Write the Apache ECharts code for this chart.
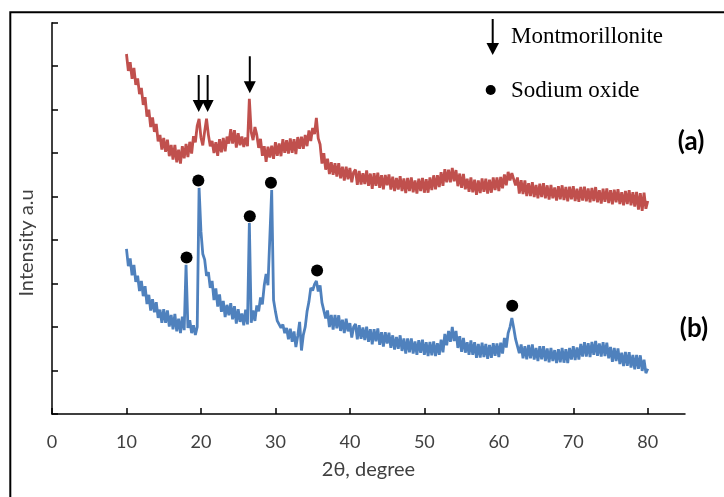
<!DOCTYPE html>
<html><head><meta charset="utf-8">
<script src="https://cdn.jsdelivr.net/npm/echarts@6/dist/echarts.min.js"></script>
<style>html,body{margin:0;padding:0;background:#fff}#c{width:724px;height:497px}</style>
</head><body><div id="c"></div>
<script>
// 2-theta sampling: start and step of the scan (degrees)
const angleStart = 10;
const angleStep = 0.25;

// (a) intensity, arbitrary units, one value per step from 10 to 80 degrees
const intensityA = [
  828, 789, 809, 771, 796, 757, 772, 736,
  750, 711, 729, 684, 700, 660, 682, 649,
  667, 627, 642, 608, 635, 603, 631, 593,
  619, 585, 619, 579, 608, 576, 616, 588,
  621, 591, 626, 599, 639, 625, 663, 679,
  636, 618, 650, 679, 642, 616, 628, 600,
  625, 594, 632, 602, 635, 604, 638, 622,
  655, 622, 653, 613, 646, 618, 638, 614,
  636, 616, 725, 648, 630, 660, 642, 612,
  633, 594, 616, 580, 615, 590, 617, 587,
  625, 594, 622, 593, 632, 601, 630, 599,
  634, 601, 632, 598, 637, 610, 638, 610,
  642, 616, 652, 628, 658, 644, 681, 634,
  620, 576, 600, 562, 587, 552, 579, 550,
  577, 546, 577, 542, 569, 537, 569, 540,
  566, 533, 556, 562, 527, 559, 528, 554,
  529, 560, 525, 553, 518, 554, 525, 555,
  520, 549, 517, 550, 526, 551, 516, 546,
  513, 543, 516, 547, 513, 542, 508, 543,
  513, 544, 510, 537, 507, 541, 513, 543,
  509, 540, 509, 544, 515, 549, 517, 549,
  522, 556, 525, 563, 533, 562, 533, 566,
  535, 561, 524, 553, 520, 552, 517, 541,
  511, 544, 510, 539, 504, 537, 508, 542,
  511, 541, 507, 539, 509, 544, 515, 544,
  513, 545, 519, 551, 526, 557, 537, 554,
  558, 526, 544, 507, 538, 506, 537, 501,
  531, 501, 533, 499, 527, 496, 530, 499,
  531, 496, 526, 493, 527, 496, 521, 491,
  524, 494, 526, 492, 522, 489, 523, 494,
  524, 490, 518, 488, 522, 491, 523, 489,
  519, 487, 520, 490, 522, 487, 515, 484,
  518, 488, 519, 485, 515, 482, 516, 487,
  517, 483, 510, 480, 513, 483, 515, 480,
  510, 477, 511, 470, 508, 467, 509, 472,
  490
];

// (b) intensity, arbitrary units, same sampling
const intensityB = [
  380, 340, 358, 319, 343, 304, 318, 283,
  306, 271, 294, 253, 274, 238, 264, 234,
  257, 221, 240, 210, 241, 210, 238, 201,
  228, 195, 230, 190, 219, 186, 224, 193,
  343, 198, 216, 186, 204, 182, 200, 520,
  420, 368, 355, 318, 326, 290, 306, 262,
  289, 247, 275, 235, 260, 223, 251, 227,
  255, 218, 248, 208, 241, 212, 231, 204,
  240, 206, 439, 210, 238, 214, 250, 236,
  268, 252, 296, 322, 296, 300, 515, 262,
  236, 214, 218, 198, 206, 186, 198, 172,
  196, 166, 190, 154, 180, 212, 146, 182,
  200, 236, 258, 290, 284, 298, 306, 282,
  296, 256, 258, 220, 238, 200, 228, 194,
  228, 197, 227, 191, 217, 186, 219, 190,
  209, 176, 200, 207, 172, 204, 173, 199,
  170, 201, 166, 195, 160, 195, 167, 197,
  159, 188, 155, 188, 162, 187, 152, 181,
  148, 177, 150, 181, 145, 174, 139, 174,
  142, 174, 139, 167, 136, 170, 141, 171,
  136, 165, 133, 166, 135, 167, 133, 163,
  136, 171, 142, 184, 158, 191, 166, 200,
  168, 191, 152, 179, 143, 175, 141, 165,
  136, 169, 136, 165, 129, 161, 130, 164,
  131, 161, 127, 159, 129, 163, 134, 162,
  131, 164, 139, 175, 153, 186, 200, 221,
  198, 172, 170, 140, 160, 128, 156, 126,
  159, 128, 160, 125, 152, 122, 156, 126,
  156, 122, 151, 119, 152, 122, 147, 117,
  149, 119, 152, 118, 149, 117, 152, 125,
  156, 124, 153, 125, 161, 132, 165, 132,
  163, 131, 166, 136, 168, 134, 162, 132,
  165, 133, 164, 128, 154, 120, 152, 122,
  151, 115, 141, 110, 143, 111, 142, 107,
  136, 103, 136, 104, 135, 99, 125, 94,
  104
];

// peak annotations [2theta, intensity]
const sodiumOxideMarks = [[18.07, 360], [19.65, 537], [26.56, 455], [29.4, 532], [35.6, 330], [61.8, 249]];
const montmorilloniteMarks = [[19.7, 737], [20.9, 737], [26.56, 780]];

const xTickValues = [0, 10, 20, 30, 40, 50, 60, 70, 80];
const legendNames = ['Montmorillonite', 'Sodium oxide'];
const curveLabels = ['(a)', '(b)'];
const axisTitles = ['2θ, degree', 'Intensity a.u'];

function toPairs(vals) {
  return vals.map((v, i) => [angleStart + i * angleStep, v]);
}

const chart = echarts.init(document.getElementById('c'), null, { renderer: 'canvas' });
const arrowPath = 'path://M5,0 L7,0 L7,25 L12,25 L6,37 L0,25 L5,25 Z';
const labelColor = '#404040';

chart.setOption({
  animation: false,
  backgroundColor: '#fff',
  grid: { left: 52, right: 39, top: 22.7, bottom: 83, containLabel: false },
  xAxis: {
    type: 'value', min: 0, max: 85, interval: 10,
    name: axisTitles[0], nameLocation: 'middle', nameGap: 46,
    nameTextStyle: { fontFamily: 'Lato', fontSize: 20, color: labelColor },
    axisLine: { show: true, onZero: false, lineStyle: { color: '#000', width: 1.5 } },
    axisTick: { show: true, inside: true, length: 6, customValues: xTickValues, lineStyle: { color: '#000', width: 1.5 } },
    axisLabel: { show: true, margin: 19, customValues: xTickValues, fontFamily: 'Lato', fontSize: 18, color: labelColor },
    splitLine: { show: false }
  },
  yAxis: {
    type: 'value', min: 0, max: 900, interval: 100,
    axisLine: { show: true, lineStyle: { color: '#000', width: 1.5 } },
    axisTick: { show: true, inside: true, length: 6, lineStyle: { color: '#000', width: 1.5 } },
    axisLabel: { show: false },
    splitLine: { show: false }
  },
  series: [
    {
      name: curveLabels[0], type: 'line', data: toPairs(intensityA), showSymbol: false, symbol: 'none',
      lineStyle: { color: '#C0504D', width: 2.8 }, itemStyle: { color: '#C0504D' }, z: 2
    },
    {
      name: curveLabels[1], type: 'line', data: toPairs(intensityB), showSymbol: false, symbol: 'none',
      lineStyle: { color: '#4F81BD', width: 2.8 }, itemStyle: { color: '#4F81BD' }, z: 2
    },
    {
      name: legendNames[1], type: 'scatter', data: sodiumOxideMarks, symbol: 'circle', symbolSize: 12,
      itemStyle: { color: '#000', opacity: 1 }, z: 5
    },
    {
      name: legendNames[0], type: 'scatter', data: montmorilloniteMarks, symbol: arrowPath, symbolSize: [12, 37],
      itemStyle: { color: '#000', opacity: 1 }, z: 5
    }
  ],
  graphic: [
    { type: 'rect', shape: { x: 10.3, y: 12.3, width: 900, height: 700 }, style: { fill: 'none', stroke: '#000', lineWidth: 2 }, silent: true },
    { type: 'text', x: 27, y: 243, rotation: Math.PI / 2, style: { text: axisTitles[1], font: '20px Lato', fill: labelColor, verticalAlign: 'middle', align: 'center' } },
    { type: 'line', shape: { x1: 492.7, y1: 19, x2: 492.7, y2: 45 }, style: { stroke: '#000', lineWidth: 2 } },
    { type: 'polygon', shape: { points: [[486.5, 43], [499, 43], [492.7, 55]] }, style: { fill: '#000' } },
    { type: 'text', x: 511, y: 37, style: { text: legendNames[0], font: '23px "Liberation Serif"', fill: '#000', verticalAlign: 'middle', align: 'left' } },
    { type: 'circle', shape: { cx: 490.7, cy: 90, r: 5 }, style: { fill: '#000' } },
    { type: 'text', x: 511, y: 91, style: { text: legendNames[1], font: '23px "Liberation Serif"', fill: '#000', verticalAlign: 'middle', align: 'left' } },
    { type: 'text', x: 691, y: 141.5, style: { text: curveLabels[0], font: 'bold 26px Lato', fill: '#000', verticalAlign: 'middle', align: 'center' } },
    { type: 'text', x: 694, y: 329, style: { text: curveLabels[1], font: 'bold 26px Lato', fill: '#000', verticalAlign: 'middle', align: 'center' } }
  ]
});
</script></body></html>
